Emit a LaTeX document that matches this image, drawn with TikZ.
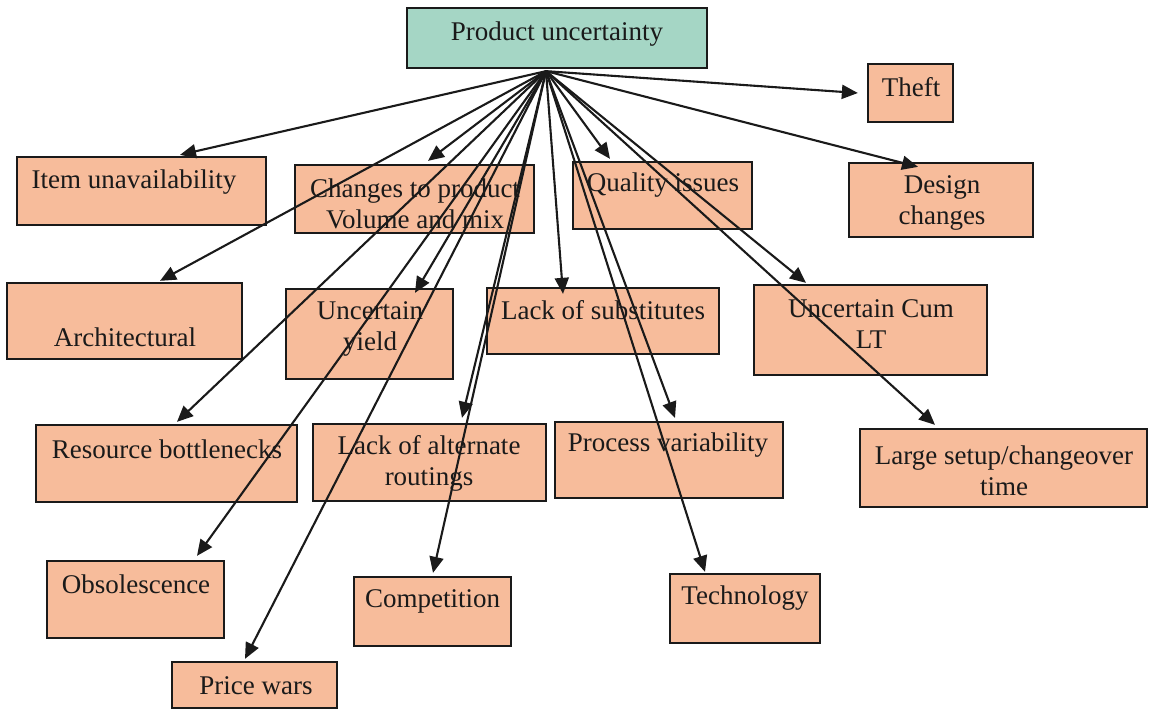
\documentclass[tikz,border=0pt]{standalone}
\usepackage{fontspec}
\setmainfont{Liberation Serif}
\usetikzlibrary{arrows.meta}

\definecolor{boxfill}{HTML}{F7BC9B}
\definecolor{rootfill}{HTML}{A5D6C5}
\definecolor{ink}{HTML}{1A1A1A}

\tikzset{
  box/.style={draw=ink, line width=2.3pt, fill=boxfill, inner sep=0pt},
  rootbox/.style={box, fill=rootfill},
  txt/.style={inner sep=0pt, align=center, text=ink,
    font=\fontsize{27}{31}\selectfont},
  arr/.style={draw=ink, line width=2.1pt,
    -{Triangle[length=16pt,width=14pt]}},
}

% a box from its corners (x1,y1) to (x2,y2) in pixel coordinates, y downward
\newcommand{\pbox}[6][box]{%
  \node[#1, minimum width={(#4)-(#2)}, minimum height={(#5)-(#3)}]
    (#6) at ({((#2)+(#4))/2},{((#3)+(#5))/2}) {};}

\begin{document}
\begin{tikzpicture}[x=1pt, y=-1pt]
\useasboundingbox[fill=white] (0,0) rectangle (1150,709);

% boxes
\pbox[rootbox]{407}{8}{707}{68}{root}
\pbox{17}{157}{266}{225}{item}
\pbox{295}{165}{534}{233}{chg}
\pbox{573}{162}{752}{229}{qual}
\pbox{849}{163}{1033}{237}{design}
\pbox{868}{64}{953}{122}{theft}
\pbox{7}{283}{242}{359}{arch}
\pbox{286}{289}{453}{379}{yield}
\pbox{487}{288}{719}{354}{subst}
\pbox{754}{285}{987}{375}{cum}
\pbox{36}{425}{297}{502}{res}
\pbox{313}{424}{546}{501}{alt}
\pbox{555}{422}{783}{498}{proc}
\pbox{860}{429}{1147}{507}{setup}
\pbox{47}{561}{224}{638}{obs}
\pbox{354}{577}{511}{646}{comp}
\pbox{670}{574}{820}{643}{tech}
\pbox{172}{662}{337}{708}{price}

% labels
\node[txt] (root-t)   at (557,34)    {Product uncertainty};
\node[txt] (item-t)   at (134,182)   {Item unavailability};
\node[txt] (chg-t)    at (415,203.5) {Changes to product\\Volume and mix};
\node[txt] (qual-t)   at (663,185)   {Quality issues};
\node[txt] (design-t) at (942,202.5) {Design\\changes};
\node[txt] (theft-t)  at (911,87)    {Theft};
\node[txt] (arch-t)   at (125,337)   {Architectural};
\node[txt] (yield-t)  at (370,328.5) {Uncertain\\yield};
\node[txt] (subst-t)  at (603,310)   {Lack of substitutes};
\node[txt] (cum-t)    at (871,324)   {Uncertain Cum\\LT};
\node[txt] (res-t)    at (167,449)   {Resource bottlenecks};
\node[txt] (alt-t)    at (429,463)   {Lack of alternate\\routings};
\node[txt] (proc-t)   at (668,445)   {Process variability};
\node[txt] (setup-t)  at (1004,471)  {Large setup/changeover\\time};
\node[txt] (obs-t)    at (136,584)   {Obsolescence};
\node[txt] (comp-t)   at (432.5,601) {Competition};
\node[txt] (tech-t)   at (745,598)   {Technology};
\node[txt] (price-t)  at (256,686)   {Price wars};

% common source point under the root box
\coordinate (src) at ([shift={(-11,2)}]root.south);

% connectors
\draw[arr] (src) -- ([shift={(38.5,-1)}]item.north);
\draw[arr] (src) -- ([shift={(13.5,-3)}]chg.north);
\draw[arr] (src) -- ([shift={(-52.5,-2)}]qual.north);
\draw[arr] (src) -- ([shift={(-23,5)}]design.north);
\draw[arr] (src) -- ([shift={(-9,0)}]theft.west);
\draw[arr] (src) -- ([shift={(35.5,-1)}]arch.north);
\draw[arr] (src) -- ([shift={(45.5,5)}]yield.north);
\draw[arr] (src) -- ([shift={(-40,7)}]subst.north);
\draw[arr] (src) -- ([shift={(-64.5,-1)}]cum.north);
\draw[arr] (src) -- ([shift={(10.5,-2)}]res.north);
\draw[arr] (src) -- ([shift={(32.5,-5)}]alt.north);
\draw[arr] (src) -- ([shift={(6,-3)}]proc.north);
\draw[arr] (src) -- ([shift={(-68.5,-3)}]setup.north);
\draw[arr] (src) -- ([shift={(61.5,-4)}]obs.north);
\draw[arr] (src) -- ([shift={(0.5,-3)}]comp.north);
\draw[arr] (src) -- ([shift={(-40,-1)}]tech.north);
\draw[arr] (src) -- ([shift={(-9.5,-2)}]price.north);
\end{tikzpicture}
\end{document}
